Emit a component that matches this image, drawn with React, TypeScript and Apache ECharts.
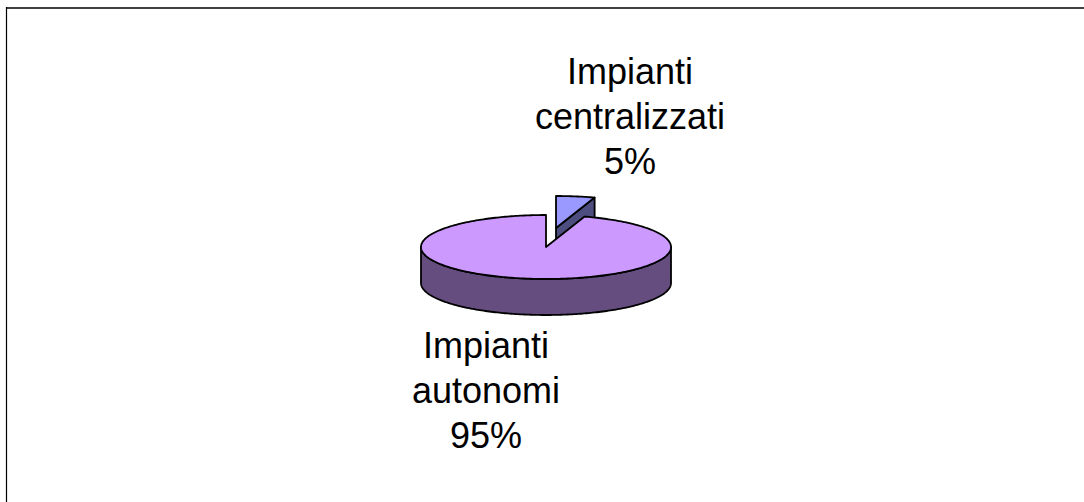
import React, { useEffect, useRef } from "react";
import * as echarts from "echarts";

// ---- data ----
const categories = ["Impianti centralizzati", "Impianti autonomi"];
const labelLines = [["Impianti", "centralizzati"], ["Impianti", "autonomi"]];
const values = [5, 95];
const topColors = ["#9999FF", "#CC99FF"];
const sideColors = ["#4D4D80", "#664D80"];
const exploded = [true, false];

// ---- layout ----
const CX = 546;
const CY = 247;
const RX = 125;
const RY = 32;
const DEPTH = 36;
const START_ANGLE = 90;
const EXPLODE_X = 10;
const EXPLODE_Y = -19;
const LABEL_POS = [
  [630, 116],
  [486, 390],
];

const rad = (d: number) => (d * Math.PI) / 180;

function renderItem(params: any, api: any) {
  const i = params.dataIndex;
  const total = values.reduce((a, b) => a + b, 0);
  let cum = 0;
  for (let k = 0; k < i; k++) cum += values[k];
  const v = api.value(0);
  const hi = START_ANGLE - (cum / total) * 360;
  const lo = hi - (v / total) * 360;
  const ox = exploded[i] ? EXPLODE_X : 0;
  const oy = exploded[i] ? EXPLODE_Y : 0;
  const cx = CX + ox;
  const cy = CY + oy;
  const P = (a: number, dz: number) => [cx + RX * Math.cos(rad(a)), cy - RY * Math.sin(rad(a)) + dz];
  const arc = (s: number, e: number, dz: number) => {
    const pts: number[][] = [];
    const n = Math.max(2, Math.ceil(Math.abs(e - s)));
    for (let k = 0; k <= n; k++) pts.push(P(s + ((e - s) * k) / n, dz));
    return pts;
  };
  const stroke = { stroke: "#000", lineWidth: 1.8, lineJoin: "round" };
  const children: any[] = [];
  const apex = [cx, cy];
  const apexD = [cx, cy + DEPTH];
  // radial faces
  if (Math.cos(rad(lo)) > 0.01) {
    children.push({
      type: "polygon",
      shape: { points: [apex, P(lo, 0), P(lo, DEPTH), apexD] },
      style: { fill: sideColors[i], ...stroke },
    });
  }
  if (Math.cos(rad(hi)) < -0.01) {
    children.push({
      type: "polygon",
      shape: { points: [apex, P(hi, 0), P(hi, DEPTH), apexD] },
      style: { fill: sideColors[i], ...stroke },
    });
  }
  // outer wall (front half)
  for (let base = -720; base <= 720; base += 360) {
    const s = Math.max(lo, base + 180);
    const e = Math.min(hi, base + 360);
    if (e > s) {
      const top = arc(s, e, 0);
      const bot = arc(e, s, DEPTH);
      children.push({
        type: "polygon",
        shape: { points: top.concat(bot) },
        style: { fill: sideColors[i], ...stroke },
      });
    }
  }
  // top face
  children.push({
    type: "polygon",
    shape: { points: [apex].concat(arc(lo, hi, 0)) },
    style: { fill: topColors[i], ...stroke },
  });
  // label
  const pct = Math.round((v / total) * 100) + "%";
  children.push({
    type: "text",
    style: {
      text: labelLines[i].concat([pct]).join("\n"),
      x: LABEL_POS[i][0],
      y: LABEL_POS[i][1],
      align: "center",
      verticalAlign: "middle",
      fontSize: 36,
      lineHeight: 45,
      fontFamily: "'Liberation Sans', Arial, sans-serif",
      fill: "#000",
    },
  });
  return { type: "group", children };
}

export default function App() {
  const ref = useRef<HTMLDivElement>(null);
  useEffect(() => {
    document.body.style.margin = "0";
    const chart = echarts.init(ref.current!, null, { renderer: "svg" });
    chart.setOption({
      animation: false,
      backgroundColor: "#fff",
      graphic: [
        { type: "line", shape: { x1: 6, y1: 8, x2: 1090, y2: 8 }, style: { stroke: "#404040", lineWidth: 2 } },
        { type: "line", shape: { x1: 6.5, y1: 7, x2: 6.5, y2: 510 }, style: { stroke: "#000", lineWidth: 1.2 } },
      ],
      series: [
        {
          type: "custom",
          coordinateSystem: "none",
          renderItem,
          data: values.map((v, i) => ({ value: [v], name: categories[i] })),
        },
      ],
    });
    return () => chart.dispose();
  }, []);
  return <div ref={ref} style={{ width: 1084, height: 502 }} />;
}
